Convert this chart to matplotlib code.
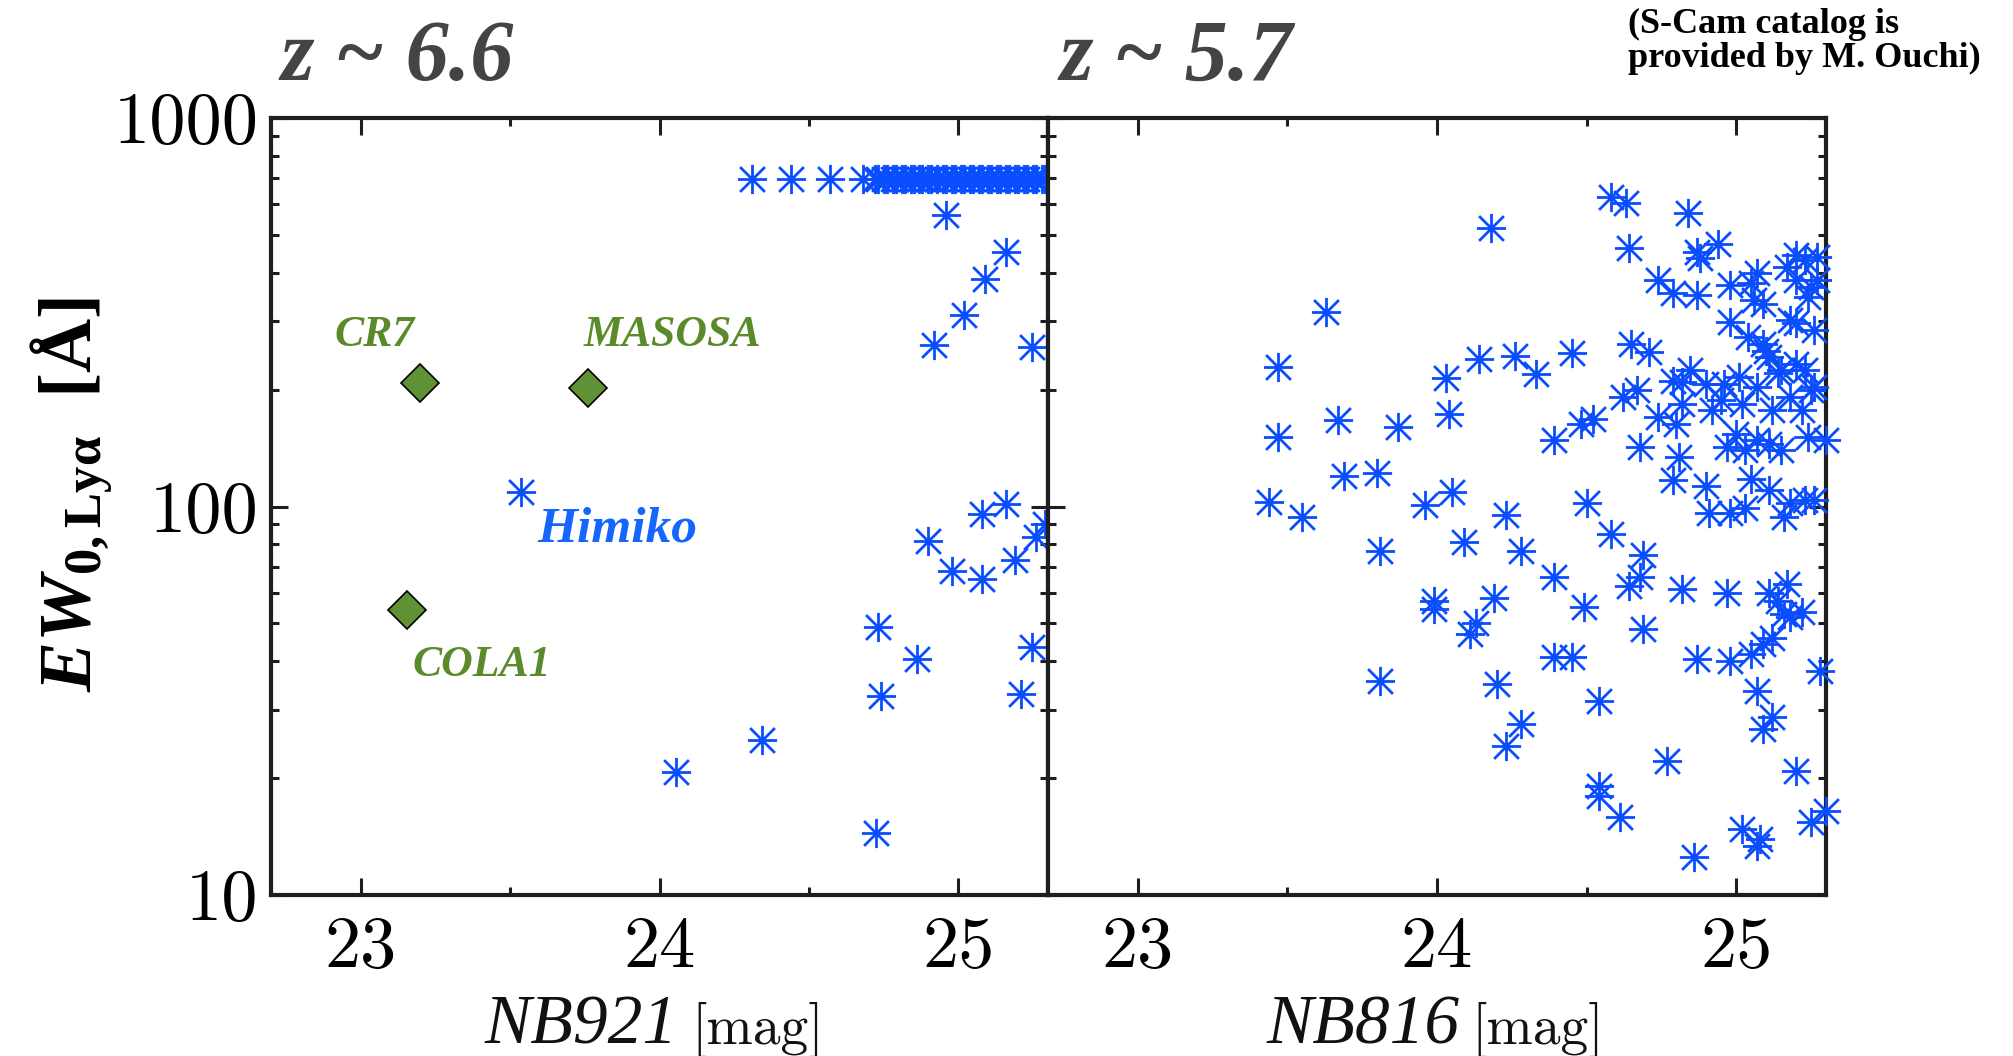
import matplotlib
matplotlib.use('Agg')
import matplotlib.pyplot as plt
from matplotlib.path import Path
from matplotlib.ticker import MultipleLocator, LogLocator, NullFormatter

# ---------------- data ----------------
# z ~ 6.6 panel (NB921) : S-Cam LAEs
z66_mag = [24.31, 24.44, 24.57, 24.68, 24.72, 24.73, 24.75, 24.76, 24.78, 24.79,
           24.81, 24.82, 24.84, 24.85, 24.87, 24.88, 24.90, 24.91, 24.93, 24.95,
           24.96, 24.98, 24.99, 25.01, 25.02, 25.04, 25.05, 25.07, 25.08, 25.10,
           25.11, 25.13, 25.14, 25.16, 25.17, 25.19, 25.20, 25.22, 25.23, 25.25,
           25.26, 25.28, 25.29,
           24.96, 25.16, 25.09, 25.02, 24.92, 25.245, 23.537, 25.16, 25.08, 25.29,
           25.26, 24.90, 24.98, 25.08, 25.19, 24.73, 24.86, 25.245, 24.74, 25.21,
           24.344, 24.056, 24.726]
z66_ew = [695, 695, 695, 695, 695, 695, 695, 695, 695, 695,
          695, 695, 695, 695, 695, 695, 695, 695, 695, 695,
          695, 695, 695, 695, 695, 695, 695, 695, 695, 695,
          695, 695, 695, 695, 695, 695, 695, 695, 695, 695,
          695, 695, 695,
          562, 452, 384, 311, 260, 257, 109, 101.6, 95.7, 90,
          83.4, 81.7, 68.4, 65.1, 72.9, 48.9, 40.5, 43.4, 32.6, 32.9,
          25.0, 20.7, 14.45]

# notable bright LAEs
named = ['CR7', 'MASOSA', 'COLA1']
named_mag = [23.198, 23.760, 23.155]
named_ew = [208, 202, 54.0]
named_lx = [23.047, 24.043, 23.405]
named_ly = [276, 277, 39.2]
himiko_label = ('Himiko', 23.86, 87)

# z ~ 5.7 panel (NB816)
z57_mag = [24.18, 23.63, 23.47, 23.47, 23.67, 23.87, 24.03, 24.04, 24.14, 24.26,
           24.33, 24.45, 24.39, 23.69, 23.80, 23.44, 23.55, 23.96, 24.05, 24.23,
           23.81, 24.09, 24.28, 24.39, 23.99, 23.99, 24.19, 24.13, 24.11, 23.81,
           24.20, 24.28, 24.23, 24.39, 24.45,
           24.58, 24.69, 24.68, 24.64, 24.49, 24.82, 24.97, 24.69, 24.87, 24.98,
           25.05, 25.09, 25.12, 25.11, 25.17, 25.14, 25.18, 25.22, 25.16, 25.28,
           25.07, 25.12, 25.09, 24.54, 24.77, 24.54, 24.54, 24.61, 25.20, 25.30,
           25.25, 25.02, 25.08, 25.07, 24.86,
           24.58, 24.63, 24.84, 24.64, 24.87, 24.94, 24.88, 24.74, 24.79, 24.87,
           24.98, 25.05, 25.07, 25.17, 25.23, 25.20, 25.25, 25.24, 25.27, 25.09,
           25.06, 24.98, 25.20, 25.26, 25.04, 25.18, 25.11, 25.10, 25.20, 25.09,
           24.65, 24.71, 24.67, 24.62, 24.82, 24.79, 24.90, 24.96, 25.01, 25.07,
           25.14, 25.18, 25.25, 25.23, 25.15, 25.26, 24.95, 25.02, 25.12, 24.82,
           24.92, 25.22, 24.52, 24.48, 24.68, 24.74, 24.80, 24.81, 25.00, 25.07,
           25.11, 25.24, 25.30, 24.79, 24.90, 24.50, 25.05, 25.11, 25.18, 25.23,
           25.26, 24.98, 25.03, 24.91, 25.16, 25.03, 25.15, 24.97, 24.845, 25.27,
           25.20]
z57_ew = [520, 317, 228, 151, 167, 160, 214, 173, 240, 244,
          219, 248, 148, 120, 122, 103, 94, 101, 109, 95,
          77, 81, 77, 66, 57, 54.5, 58, 50, 47, 35.6,
          35, 27.5, 24.2, 41, 41,
          85, 75, 66, 62.5, 55, 61.4, 60, 48.4, 40.5, 40,
          41.7, 44.3, 46, 60, 63, 57, 52, 53.4, 53, 37.8,
          33.6, 28.7, 26.7, 31.6, 22.1, 19.1, 18.0, 15.9, 20.9, 16.5,
          15.4, 14.8, 13.9, 13.4, 12.5,
          627, 603, 568, 464, 452, 474, 435, 382, 355, 350,
          371, 375, 398, 413, 430, 382, 367, 346, 382, 333,
          340, 298, 296, 284, 273, 302, 243, 252, 233, 262,
          262, 250, 199, 191, 209, 211, 207, 207, 215, 203,
          220, 191, 199, 224, 224, 203, 188, 184, 177, 184,
          177, 177, 168, 163, 142, 170, 163, 134, 154, 148,
          145, 151, 148, 117, 113, 102, 118, 110, 102, 104,
          104, 96, 99, 96, 94, 140, 140, 142, 224, 440,
          445]

x_ticks = [23, 24, 25]
x_ticklabels = ['23', '24', '25']
y_ticks = [10, 100, 1000]
y_ticklabels = ['10', '100', '1000']

# ---------------- style ----------------
W, H = 2013, 1056
BLUE = '#0a4dff'
GREEN_TXT = '#5b8a2a'
GREEN_FACE = '#5f9234'
HIMIKO_C = '#1466ff'
SPINE = '#1e1e1e'

plt.rcParams['mathtext.fontset'] = 'custom'
plt.rcParams['mathtext.rm'] = 'Liberation Serif:bold'
plt.rcParams['mathtext.it'] = 'Liberation Serif:bold:italic'
plt.rcParams['mathtext.bf'] = 'Liberation Serif:bold'

d = 0.85
ast = Path([(-1, 0), (1, 0), (0, -1), (0, 1), (-d, -d), (d, d), (-d, d), (d, -d)],
           [Path.MOVETO, Path.LINETO] * 4)

fig = plt.figure(figsize=(W / 100, H / 100), dpi=100)
fig.patch.set_facecolor('white')

ax_top, ax_bot = 118, 895
ax1 = fig.add_axes([271 / W, 1 - ax_bot / H, (1048 - 271) / W, (ax_bot - ax_top) / H])
ax2 = fig.add_axes([1048 / W, 1 - ax_bot / H, (1826 - 1048) / W, (ax_bot - ax_top) / H])

for ax in (ax1, ax2):
    ax.set_yscale('log')
    ax.set_xlim(22.7, 25.3)
    ax.set_ylim(10, 1000)
    ax.set_xticks(x_ticks, labels=x_ticklabels)
    ax.xaxis.set_minor_locator(MultipleLocator(0.5))
    ax.set_yticks(y_ticks)
    ax.yaxis.set_minor_locator(LogLocator(base=10, subs=[2, 3, 4, 5, 6, 7, 8, 9]))
    ax.yaxis.set_minor_formatter(NullFormatter())
    ax.tick_params(which='both', direction='in', top=True, right=True,
                   width=2.2, color=SPINE)
    ax.tick_params(which='major', length=12)
    ax.tick_params(which='minor', length=6)
    ax.tick_params(axis='x', which='major', pad=15, labelsize=52)
    ax.tick_params(axis='y', which='major', pad=9, labelsize=52)
    for lab in ax.get_xticklabels() + ax.get_yticklabels():
        lab.set_family('cmr10')
    for sp in ax.spines.values():
        sp.set_linewidth(3)
        sp.set_color(SPINE)

ax1.set_yticklabels(y_ticklabels)
for lab in ax1.get_yticklabels():
    lab.set_family('cmr10')
ax2.set_yticklabels(['', '', ''])

# scatter of LAEs
ax1.plot(z66_mag, z66_ew, ls='none', marker=ast, ms=21, mew=2.0,
         mec=BLUE, mfc='none', clip_on=False, zorder=3)
ax2.plot(z57_mag, z57_ew, ls='none', marker=ast, ms=21, mew=2.0,
         mec=BLUE, mfc='none', clip_on=False, zorder=3)

# named objects
ax1.plot(named_mag, named_ew, ls='none', marker='D', ms=19.5,
         mfc=GREEN_FACE, mec='black', mew=1.2, zorder=4)
for name, lx, ly in zip(named, named_lx, named_ly):
    ax1.text(lx, ly, name, color=GREEN_TXT, fontsize=31.5, fontweight='bold',
             fontstyle='italic', family='Liberation Serif', ha='center', va='center')
ax1.text(himiko_label[1], himiko_label[2], himiko_label[0], color=HIMIKO_C,
         fontsize=37, fontweight='bold', fontstyle='italic',
         family='Liberation Serif', ha='center', va='center')

# titles
for x0, t in ((280, 'z ~ 6.6'), (1059, 'z ~ 5.7')):
    fig.text(x0 / W, 1 - 80 / H, t, fontsize=62, fontweight='bold', fontstyle='italic',
             family='Liberation Serif', color='#444444', ha='left', va='baseline')

# note
fig.text(1628 / W, 1 - 8 / H, '(S-Cam catalog is\nprovided by M. Ouchi)',
         fontsize=26, fontweight='bold', family='Liberation Serif', color='black',
         ha='left', va='top', linespacing=1.05)

# y label
fig.text(71 / W, 1 - 494 / H, r'$EW_{\mathbf{0,Ly\alpha}}$  [Å]', rotation=90,
         fontsize=54, fontweight='bold', family='Liberation Serif',
         math_fontfamily='custom', ha='center', va='center')

# x labels
base = 1 - 1044 / H
for xr, xl, band in ((678, 691, 'NB921'), (1460, 1471, 'NB816')):
    fig.text(xr / W, base, band, fontsize=50, fontstyle='italic',
             family='Liberation Serif', ha='right', va='baseline', color='#111111')
    fig.text(xl / W, base, '[mag]', fontsize=40, family='cmr10',
             ha='left', va='baseline', color='#111111')

fig.savefig('out.png', dpi=100, facecolor='white')
